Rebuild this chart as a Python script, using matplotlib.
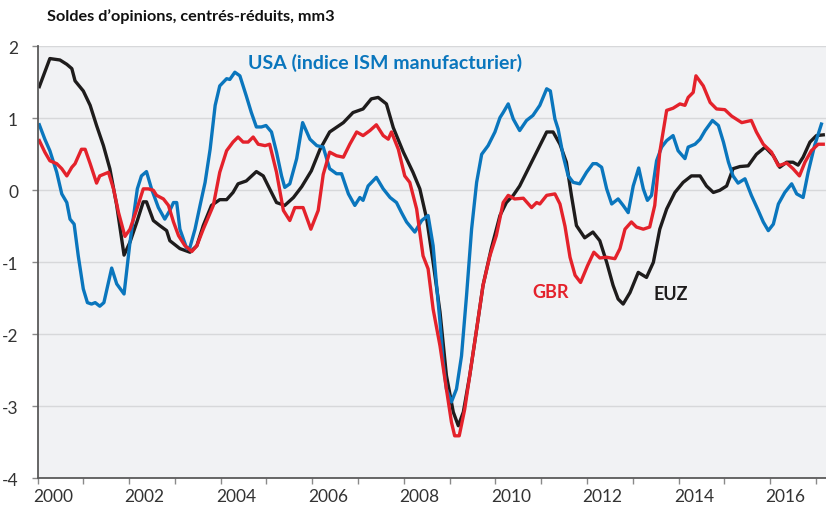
import matplotlib
matplotlib.use("Agg")
import matplotlib.pyplot as plt
import matplotlib.transforms as mtransforms

# data (fractional years, standardized balances)
usa_t = [2000.04, 2000.16, 2000.27, 2000.42, 2000.53, 2000.64, 2000.71, 2000.80, 2000.89, 2001.00,
         2001.09, 2001.18, 2001.26, 2001.36, 2001.45, 2001.55, 2001.62, 2001.73, 2001.89, 2002.02,
         2002.18, 2002.27, 2002.38, 2002.49, 2002.64, 2002.78, 2002.89, 2002.97, 2003.04, 2003.11,
         2003.26, 2003.33, 2003.44, 2003.55, 2003.66, 2003.77, 2003.88, 2003.98, 2004.13, 2004.20,
         2004.31, 2004.42, 2004.56, 2004.67, 2004.78, 2004.89, 2004.99, 2005.11, 2005.22, 2005.33,
         2005.40, 2005.51, 2005.66, 2005.79, 2005.95, 2006.10, 2006.24, 2006.38, 2006.53, 2006.64,
         2006.79, 2006.93, 2007.04, 2007.11, 2007.22, 2007.40, 2007.55, 2007.70, 2007.84, 2007.95,
         2008.06, 2008.24, 2008.39, 2008.53, 2008.64, 2008.71, 2008.79, 2008.86, 2008.93, 2009.04,
         2009.15, 2009.26, 2009.37, 2009.48, 2009.59, 2009.70, 2009.84, 2009.99, 2010.10, 2010.17,
         2010.28, 2010.39, 2010.53, 2010.68, 2010.82, 2010.97, 2011.12, 2011.20, 2011.30, 2011.37,
         2011.48, 2011.59, 2011.70, 2011.84, 2011.99, 2012.13, 2012.21, 2012.32, 2012.43, 2012.54,
         2012.68, 2012.79, 2012.90, 2013.01, 2013.13, 2013.23, 2013.32, 2013.41, 2013.52, 2013.63,
         2013.74, 2013.88, 2013.99, 2014.14, 2014.21, 2014.36, 2014.47, 2014.58, 2014.74, 2014.87,
         2014.98, 2015.09, 2015.19, 2015.30, 2015.45, 2015.59, 2015.74, 2015.85, 2015.96, 2016.07,
         2016.18, 2016.32, 2016.47, 2016.58, 2016.72, 2016.83, 2016.97, 2017.12]
usa_v = [0.91, 0.71, 0.55, 0.25, -0.05, -0.17, -0.40, -0.47, -0.91, -1.37,
         -1.56, -1.58, -1.56, -1.61, -1.56, -1.28, -1.08, -1.30, -1.44, -0.72,
         0.02, 0.20, 0.26, 0.02, -0.24, -0.40, -0.28, -0.17, -0.17, -0.54,
         -0.81, -0.79, -0.54, -0.21, 0.11, 0.57, 1.18, 1.45, 1.55, 1.54,
         1.64, 1.59, 1.31, 1.08, 0.88, 0.88, 0.90, 0.81, 0.53, 0.20,
         0.04, 0.09, 0.44, 0.94, 0.71, 0.62, 0.60, 0.30, 0.23, 0.23,
         -0.05, -0.21, -0.10, -0.14, 0.06, 0.18, 0.02, -0.10, -0.17, -0.31,
         -0.44, -0.58, -0.42, -0.35, -0.77, -1.28, -1.83, -2.39, -2.76, -2.94,
         -2.76, -2.30, -1.46, -0.54, 0.11, 0.50, 0.62, 0.81, 1.01, 1.08,
         1.20, 0.99, 0.83, 0.97, 1.04, 1.18, 1.41, 1.38, 0.99, 0.85,
         0.48, 0.20, 0.11, 0.09, 0.25, 0.37, 0.37, 0.32, 0.02, -0.19,
         -0.12, -0.21, -0.31, 0.06, 0.31, 0.02, -0.14, -0.07, 0.41, 0.60,
         0.69, 0.76, 0.55, 0.44, 0.60, 0.64, 0.71, 0.83, 0.97, 0.90,
         0.67, 0.39, 0.20, 0.10, 0.16, -0.07, -0.28, -0.44, -0.56, -0.47,
         -0.19, -0.03, 0.09, -0.05, -0.10, 0.25, 0.62, 0.92]

gbr_t = [2000.04, 2000.16, 2000.27, 2000.42, 2000.53, 2000.64, 2000.75, 2000.82, 2000.96, 2001.04,
         2001.15, 2001.29, 2001.36, 2001.55, 2001.66, 2001.77, 2001.91, 2002.02, 2002.17, 2002.31,
         2002.42, 2002.53, 2002.60, 2002.75, 2002.86, 2002.97, 2003.08, 2003.22, 2003.37, 2003.48,
         2003.62, 2003.84, 2003.98, 2004.13, 2004.27, 2004.38, 2004.49, 2004.60, 2004.71, 2004.82,
         2004.97, 2005.07, 2005.22, 2005.37, 2005.51, 2005.62, 2005.80, 2005.97, 2006.13, 2006.24,
         2006.38, 2006.53, 2006.68, 2006.82, 2006.97, 2007.11, 2007.26, 2007.40, 2007.55, 2007.66,
         2007.73, 2007.88, 2008.02, 2008.13, 2008.28, 2008.42, 2008.53, 2008.64, 2008.79, 2008.93,
         2009.04, 2009.11, 2009.21, 2009.33, 2009.44, 2009.59, 2009.73, 2009.88, 2010.02, 2010.17,
         2010.28, 2010.42, 2010.61, 2010.79, 2010.90, 2010.97, 2011.12, 2011.30, 2011.41, 2011.52,
         2011.63, 2011.74, 2011.86, 2012.01, 2012.15, 2012.28, 2012.43, 2012.61, 2012.72, 2012.83,
         2012.97, 2013.08, 2013.23, 2013.37, 2013.48, 2013.59, 2013.74, 2013.88, 2014.03, 2014.14,
         2014.21, 2014.32, 2014.38, 2014.54, 2014.69, 2014.83, 2015.01, 2015.16, 2015.38, 2015.59,
         2015.70, 2015.85, 2016.03, 2016.18, 2016.36, 2016.50, 2016.64, 2016.76, 2016.90, 2017.05,
         2017.16]
gbr_v = [0.69, 0.53, 0.41, 0.37, 0.30, 0.20, 0.32, 0.37, 0.57, 0.57,
         0.37, 0.10, 0.20, 0.25, 0.02, -0.31, -0.64, -0.54, -0.26, 0.02,
         0.02, 0.00, -0.07, -0.12, -0.21, -0.44, -0.63, -0.77, -0.85, -0.77,
         -0.54, -0.21, 0.25, 0.55, 0.67, 0.74, 0.67, 0.67, 0.74, 0.64,
         0.62, 0.64, 0.25, -0.28, -0.42, -0.24, -0.24, -0.54, -0.28, 0.22,
         0.53, 0.48, 0.46, 0.64, 0.81, 0.76, 0.83, 0.91, 0.76, 0.71,
         0.81, 0.57, 0.20, 0.11, -0.26, -0.91, -1.09, -1.65, -2.16, -2.76,
         -3.22, -3.41, -3.41, -3.04, -2.57, -1.93, -1.32, -0.91, -0.63, -0.17,
         -0.07, -0.12, -0.11, -0.24, -0.17, -0.19, -0.07, -0.05, -0.19, -0.50,
         -0.93, -1.18, -1.28, -1.05, -0.86, -0.94, -0.93, -0.95, -0.81, -0.54,
         -0.44, -0.51, -0.54, -0.51, -0.21, 0.53, 1.11, 1.14, 1.20, 1.18,
         1.29, 1.36, 1.59, 1.45, 1.22, 1.13, 1.12, 1.03, 0.94, 0.97,
         0.81, 0.64, 0.53, 0.34, 0.38, 0.30, 0.20, 0.39, 0.55, 0.64,
         0.64]

euz_t = [2000.04, 2000.27, 2000.49, 2000.64, 2000.75, 2000.82, 2001.00, 2001.15, 2001.29, 2001.44,
         2001.58, 2001.73, 2001.89, 2002.02, 2002.17, 2002.31, 2002.38, 2002.53, 2002.67, 2002.82,
         2002.89, 2003.11, 2003.33, 2003.48, 2003.62, 2003.80, 2003.98, 2004.13, 2004.27, 2004.38,
         2004.56, 2004.78, 2004.93, 2005.07, 2005.22, 2005.40, 2005.59, 2005.77, 2005.98, 2006.17,
         2006.38, 2006.68, 2006.89, 2007.11, 2007.29, 2007.44, 2007.62, 2007.77, 2007.99, 2008.20,
         2008.35, 2008.50, 2008.64, 2008.79, 2008.93, 2009.08, 2009.19, 2009.30, 2009.44, 2009.59,
         2009.73, 2009.91, 2010.10, 2010.24, 2010.39, 2010.53, 2010.75, 2010.97, 2011.12, 2011.26,
         2011.41, 2011.55, 2011.66, 2011.77, 2011.95, 2012.13, 2012.28, 2012.43, 2012.57, 2012.68,
         2012.79, 2012.94, 2013.12, 2013.30, 2013.45, 2013.59, 2013.74, 2013.92, 2014.10, 2014.28,
         2014.47, 2014.61, 2014.76, 2014.90, 2015.05, 2015.19, 2015.34, 2015.52, 2015.70, 2015.89,
         2016.07, 2016.21, 2016.36, 2016.50, 2016.61, 2016.72, 2016.87, 2017.01, 2017.16]
euz_v = [1.44, 1.83, 1.81, 1.75, 1.69, 1.52, 1.38, 1.18, 0.90, 0.62,
         0.30, -0.21, -0.90, -0.72, -0.44, -0.16, -0.16, -0.42, -0.49, -0.56,
         -0.70, -0.81, -0.86, -0.77, -0.49, -0.21, -0.13, -0.13, -0.03, 0.09,
         0.13, 0.26, 0.20, 0.02, -0.17, -0.21, -0.10, 0.05, 0.27, 0.57,
         0.81, 0.94, 1.08, 1.13, 1.27, 1.29, 1.20, 0.87, 0.53, 0.25,
         0.02, -0.40, -1.00, -1.69, -2.57, -3.08, -3.27, -3.08, -2.57, -1.93,
         -1.32, -0.81, -0.35, -0.17, -0.07, 0.06, 0.34, 0.62, 0.81, 0.81,
         0.64, 0.39, -0.07, -0.49, -0.66, -0.58, -0.70, -1.00, -1.32, -1.51,
         -1.58, -1.42, -1.14, -1.21, -1.00, -0.54, -0.26, -0.03, 0.11, 0.20,
         0.20, 0.06, -0.03, 0.00, 0.06, 0.30, 0.33, 0.34, 0.50, 0.60,
         0.48, 0.32, 0.39, 0.39, 0.35, 0.46, 0.67, 0.76, 0.77]

years = list(range(2000, 2018))
year_labels = [str(y) if y % 2 == 0 else "" for y in years]
y_ticks = [-4, -3, -2, -1, 0, 1, 2]

blue = "#0a76bd"
red = "#e4222b"
black = "#1e1c1c"

plt.rcParams["font.family"] = ["Lato", "DejaVu Sans"]

fig = plt.figure(figsize=(8.26, 5.06), dpi=100)
ax = fig.add_axes([0.0454, 0.0528, 0.9546, 0.8537])
ax.set_facecolor("#f1f2f4")

ax.plot(euz_t, euz_v, color=black, lw=2.4, solid_joinstyle="round")
ax.plot(usa_t, usa_v, color=blue, lw=2.4, solid_joinstyle="round")
ax.plot(gbr_t, gbr_v, color=red, lw=2.4, solid_joinstyle="round")

ax.set_xlim(2000, 2017.22)
ax.set_ylim(-4, 2)
ax.set_yticks(y_ticks)
ax.set_yticklabels([str(v) for v in y_ticks])
ax.set_xticks(years)
ax.set_xticklabels(year_labels)

ax.grid(axis="y", color="#d7d8da", lw=1)
ax.set_axisbelow(True)
for s in ["top", "right"]:
    ax.spines[s].set_visible(False)
for s in ["left", "bottom"]:
    ax.spines[s].set_color("#5a5a5a")
    ax.spines[s].set_linewidth(1.3)

ax.tick_params(axis="both", colors="#8a8a8a", length=4, width=1, labelcolor="#333333", labelsize=12.5)
ax.tick_params(axis="y", pad=10)
ax.tick_params(axis="x", pad=3)

# year labels sit a bit right of their tick
shift = mtransforms.ScaledTranslation(15.5 / 100, 0, fig.dpi_scale_trans)
for lab in ax.get_xticklabels():
    lab.set_transform(lab.get_transform() + shift)

ax.text(2004.6, 1.78, "USA (indice ISM manufacturier)", color=blue, fontsize=14, fontweight="bold", va="center")
ax.text(2010.8, -1.40, "GBR", color=red, fontsize=13, fontweight="bold", va="center")
ax.text(2013.45, -1.44, "EUZ", color=black, fontsize=13, fontweight="bold", va="center")

fig.text(47 / 826, 1 - 17 / 506, "Soldes d\u2019opinions, centrés-réduits, mm3",
         fontsize=11.7, fontweight="bold", color="#111111", va="center")

fig.savefig("out.png", dpi=100)
